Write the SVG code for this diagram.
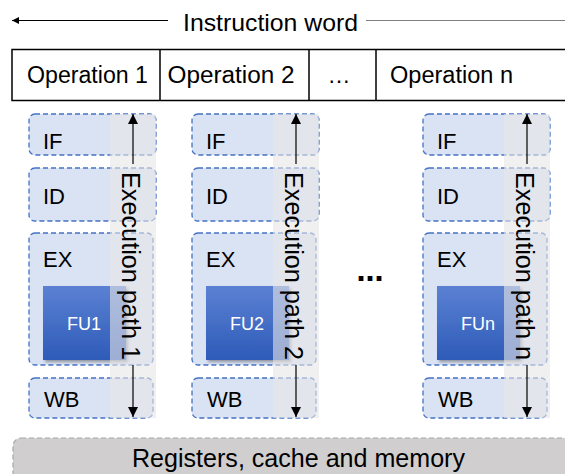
<svg xmlns="http://www.w3.org/2000/svg" width="565" height="474" viewBox="0 0 565 474">
  <defs>
    <style>
      .t { font-family: "Liberation Sans", Arial, sans-serif; fill: #000; }
      .stage { fill: #DAE3F3; stroke: #4472C4; stroke-width: 1.3; stroke-dasharray: 5 3; }
      .strip { fill: #E7E6E6; fill-opacity: 0.6; }
      .fu { fill: url(#fuGrad); filter: url(#shadow); }
      .fu-label { font-family: "Liberation Sans", Arial, sans-serif; font-size: 18px; fill: #FFFFFF; text-anchor: middle; }
      .lbl { font-size: 22px; }
      .path-label { font-size: 25px; text-anchor: middle; }
      .cell { fill: #FFFFFF; stroke: #000; stroke-width: 1.5; }
      .conn { stroke: #000; stroke-width: 1.2; fill: none; }
    </style>
    <linearGradient id="fuGrad" x1="0" y1="0" x2="0" y2="1">
      <stop offset="0" stop-color="#5B81D3"/>
      <stop offset="1" stop-color="#2E5BB8"/>
    </linearGradient>
    <filter id="shadow" x="-10%" y="-10%" width="130%" height="130%">
      <feDropShadow dx="2" dy="2" stdDeviation="1.5" flood-color="#000" flood-opacity="0.35"/>
    </filter>
    <marker id="arrow" viewBox="0 0 10 10" refX="10" refY="5" markerWidth="10" markerHeight="10" markerUnits="userSpaceOnUse" orient="auto">
      <path d="M0,0 L10,5 L0,10 z" fill="#000"/>
    </marker>
    <marker id="arrowSmall" viewBox="0 0 10 10" refX="10" refY="5" markerWidth="8" markerHeight="7" markerUnits="userSpaceOnUse" orient="auto">
      <path d="M0,0 L10,5 L0,10 z" fill="#000"/>
    </marker>
  </defs>

  <rect width="565" height="474" fill="#FFFFFF"/>

  <!-- Instruction word heading -->
  <g id="instruction-word">
    <text class="t" x="270.5" y="31" font-size="24" text-anchor="middle" textLength="175" lengthAdjust="spacingAndGlyphs">Instruction word</text>
  </g>

  <!-- Operation slots of the instruction word -->
  <g id="operation-row">
    <rect class="cell" x="12" y="49.5" width="570" height="51"/>
    <line x1="160" y1="49.5" x2="160" y2="100.5" stroke="#000" stroke-width="1.5"/>
    <line x1="309" y1="49.5" x2="309" y2="100.5" stroke="#000" stroke-width="1.5"/>
    <line x1="376" y1="49.5" x2="376" y2="100.5" stroke="#000" stroke-width="1.5"/>
  </g>
  <g id="op1"><text class="t" x="87.5" y="83" font-size="23" text-anchor="middle" textLength="121" lengthAdjust="spacingAndGlyphs">Operation 1</text></g>
  <g id="op2"><text class="t" x="231" y="83" font-size="23" text-anchor="middle" textLength="127" lengthAdjust="spacingAndGlyphs">Operation 2</text></g>
  <g id="op-dots"><text class="t" x="339" y="83" font-size="23" text-anchor="middle">…</text></g>
  <g id="opn"><text class="t" x="451.5" y="83" font-size="23" text-anchor="middle" textLength="123" lengthAdjust="spacingAndGlyphs">Operation n</text></g>

  <!-- Pipeline column 1 -->
  <g id="column-1">
    <g id="if-1"><rect class="stage" x="29" y="114" width="127" height="41" rx="6"/><text class="t lbl" x="43" y="149">IF</text></g>
    <g id="id-1"><rect class="stage" x="29" y="168" width="127" height="53" rx="6"/><text class="t lbl" x="43" y="204">ID</text></g>
    <g id="ex-1"><rect class="stage" x="29" y="233" width="124" height="132" rx="6"/><text class="t lbl" x="43" y="267">EX</text></g>
    <g id="fu-1"><rect class="fu" x="43" y="286" width="83" height="74"/><text class="fu-label" x="84" y="330">FU1</text></g>
    <g id="wb-1"><rect class="stage" x="29" y="378" width="124" height="40" rx="6"/><text class="t lbl" x="44" y="407">WB</text></g>
    <rect class="strip" x="110" y="114" width="46" height="304"/>
    <text class="t path-label" transform="translate(122,266) rotate(90)" textLength="188" lengthAdjust="spacingAndGlyphs">Execution path 1</text>
  </g>

  <!-- Pipeline column 2 -->
  <g id="column-2">
    <g id="if-2"><rect class="stage" x="192" y="114" width="127" height="41" rx="6"/><text class="t lbl" x="206" y="149">IF</text></g>
    <g id="id-2"><rect class="stage" x="192" y="168" width="127" height="53" rx="6"/><text class="t lbl" x="206" y="204">ID</text></g>
    <g id="ex-2"><rect class="stage" x="192" y="233" width="124" height="132" rx="6"/><text class="t lbl" x="206" y="267">EX</text></g>
    <g id="fu-2"><rect class="fu" x="206" y="286" width="83" height="74"/><text class="fu-label" x="247" y="330">FU2</text></g>
    <g id="wb-2"><rect class="stage" x="192" y="378" width="124" height="40" rx="6"/><text class="t lbl" x="207" y="407">WB</text></g>
    <rect class="strip" x="273" y="114" width="46" height="304"/>
    <text class="t path-label" transform="translate(285,266) rotate(90)" textLength="188" lengthAdjust="spacingAndGlyphs">Execution path 2</text>
  </g>

  <!-- Ellipsis between columns -->
  <g id="column-dots">
    <text x="370" y="281" font-family="DejaVu Sans, sans-serif" font-weight="bold" font-size="27" text-anchor="middle">…</text>
  </g>

  <!-- Pipeline column n -->
  <g id="column-n">
    <g id="if-n"><rect class="stage" x="423" y="114" width="127" height="41" rx="6"/><text class="t lbl" x="437" y="149">IF</text></g>
    <g id="id-n"><rect class="stage" x="423" y="168" width="127" height="53" rx="6"/><text class="t lbl" x="437" y="204">ID</text></g>
    <g id="ex-n"><rect class="stage" x="423" y="233" width="124" height="132" rx="6"/><text class="t lbl" x="437" y="267">EX</text></g>
    <g id="fu-n"><rect class="fu" x="437" y="286" width="83" height="74"/><text class="fu-label" x="478" y="330">FUn</text></g>
    <g id="wb-n"><rect class="stage" x="423" y="378" width="124" height="40" rx="6"/><text class="t lbl" x="438" y="407">WB</text></g>
    <rect class="strip" x="504" y="114" width="46" height="304"/>
    <text class="t path-label" transform="translate(516,266) rotate(90)" textLength="188" lengthAdjust="spacingAndGlyphs">Execution path n</text>
  </g>

  <!-- Shared storage -->
  <g id="storage">
    <rect x="13" y="438" width="600" height="60" rx="8" fill="#D0CECE" stroke="#A6A6A6" stroke-width="1.2" stroke-dasharray="5 3"/>
    <text class="t" x="298.5" y="467" font-size="25" text-anchor="middle" textLength="333" lengthAdjust="spacingAndGlyphs">Registers, cache and memory</text>
  </g>

  <!-- Connectors -->
  <g id="connectors">
    <line class="conn" x1="168" y1="20.5" x2="12" y2="20.5" stroke-width="1" marker-end="url(#arrowSmall)"/>
    <line x1="366" y1="20.5" x2="565" y2="20.5" stroke="#7F7F7F" stroke-width="1"/>
    <line class="conn" x1="133" y1="164" x2="133" y2="114" marker-end="url(#arrow)"/>
    <line class="conn" x1="133" y1="365" x2="133" y2="417" marker-end="url(#arrow)"/>
    <line class="conn" x1="296" y1="164" x2="296" y2="114" marker-end="url(#arrow)"/>
    <line class="conn" x1="296" y1="365" x2="296" y2="417" marker-end="url(#arrow)"/>
    <line class="conn" x1="527" y1="164" x2="527" y2="114" marker-end="url(#arrow)"/>
    <line class="conn" x1="527" y1="365" x2="527" y2="417" marker-end="url(#arrow)"/>
  </g>
</svg>
